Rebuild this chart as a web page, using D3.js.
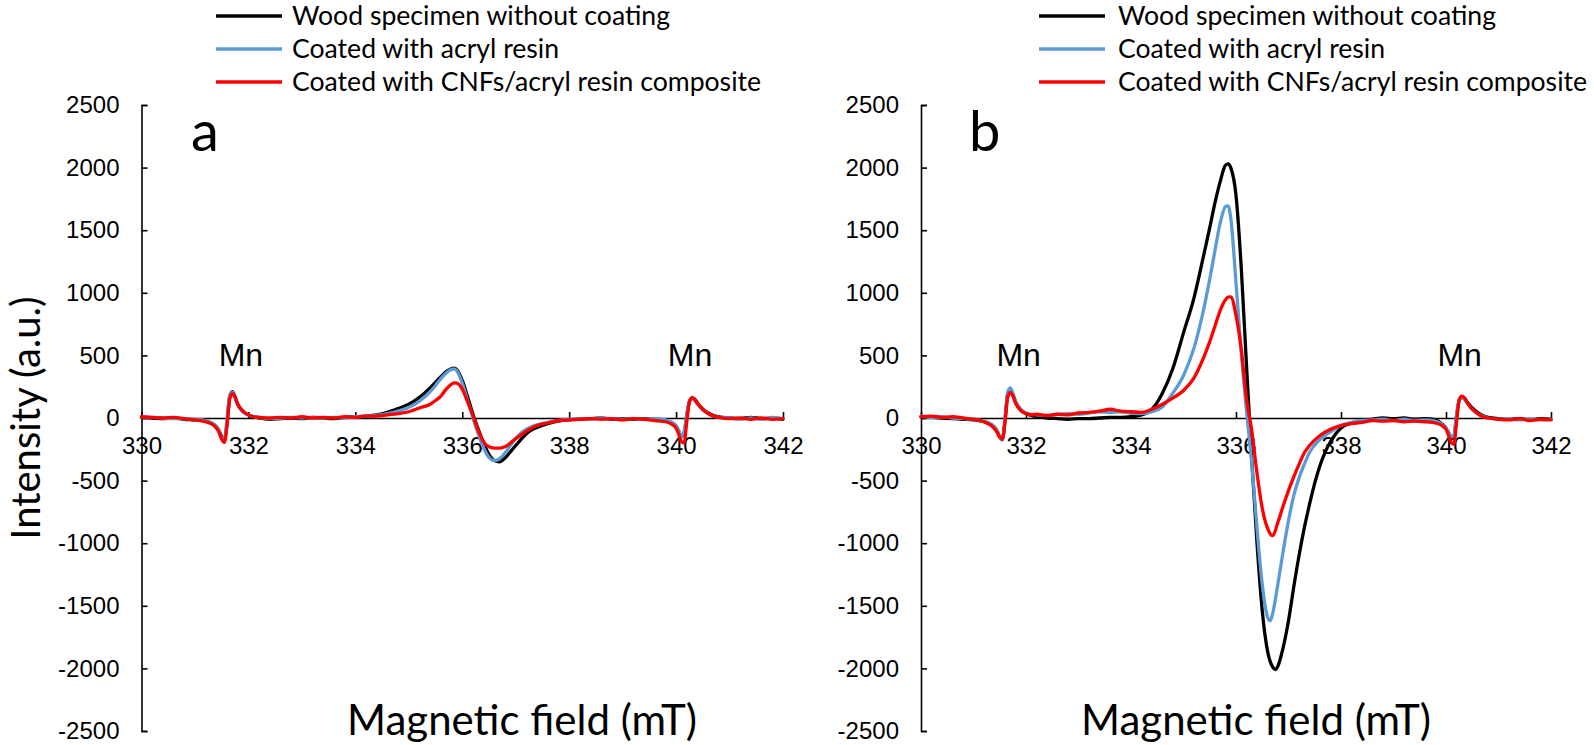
<!DOCTYPE html>
<html><head><meta charset="utf-8">
<script src="https://cdn.jsdelivr.net/npm/d3@7"></script>
<style>html,body{margin:0;padding:0;background:#fff;}svg{display:block;}</style>
</head><body>
<script>
// ---------- DATA ----------
const seriesNames = ["Wood specimen without coating", "Coated with acryl resin", "Coated with CNFs/acryl resin composite"];
const xTicks = [330, 332, 334, 336, 338, 340, 342];
const yTicks = [-2500, -2000, -1500, -1000, -500, 0, 500, 1000, 1500, 2000, 2500];
const panelLabels = ["a", "b"];
const mnFields = [331.86, 340.26];

// Panel a
const woodA = [[330.0,5],[330.2,0],[330.4,-5],[330.6,0],[330.8,-10],[331.0,-15],[331.2,-25],[331.3,-40],[331.4,-70],[331.45,-100],[331.5,-150],[331.55,-180],[331.6,-40],[331.65,170],[331.7,210],[331.75,170],[331.8,110],[331.9,50],[332.0,25],[332.1,10],[332.2,0],[332.4,-10],[332.6,-5],[332.8,0],[333.0,-5],[333.2,5],[333.4,0],[333.6,-5],[333.8,5],[334.0,10],[334.2,15],[334.4,25],[334.6,45],[334.8,75],[335.0,110],[335.2,165],[335.4,240],[335.5,285],[335.6,330],[335.7,370],[335.8,395],[335.85,398],[335.9,385],[336.0,300],[336.1,170],[336.2,30],[336.3,-90],[336.4,-200],[336.5,-290],[336.6,-340],[336.7,-350],[336.8,-320],[336.9,-270],[337.0,-220],[337.1,-170],[337.2,-125],[337.3,-95],[337.4,-75],[337.6,-45],[337.8,-25],[338.0,-15],[338.2,-10],[338.4,-5],[338.6,0],[338.8,-10],[339.0,-5],[339.2,-10],[339.4,-5],[339.6,-10],[339.8,-20],[339.9,-35],[340.0,-70],[340.05,-110],[340.1,-150],[340.15,-120],[340.2,20],[340.25,130],[340.3,160],[340.35,150],[340.4,120],[340.5,70],[340.6,40],[340.7,20],[340.8,10],[341.0,0],[341.2,-5],[341.4,5],[341.6,-5],[341.8,0],[342.0,-10]];
const acrylA = [[330.0,10],[330.2,5],[330.4,0],[330.6,-5],[330.8,-5],[331.0,-10],[331.2,-20],[331.3,-35],[331.4,-65],[331.45,-100],[331.5,-160],[331.55,-175],[331.6,0],[331.65,180],[331.7,205],[331.75,165],[331.8,105],[331.9,50],[332.0,25],[332.1,10],[332.2,5],[332.4,-5],[332.6,0],[332.8,5],[333.0,0],[333.2,5],[333.4,0],[333.6,5],[333.8,0],[334.0,10],[334.2,15],[334.4,20],[334.6,35],[334.8,55],[335.0,85],[335.2,135],[335.4,210],[335.5,260],[335.6,315],[335.7,360],[335.8,388],[335.85,392],[335.9,375],[336.0,280],[336.1,140],[336.2,0],[336.3,-130],[336.4,-240],[336.5,-315],[336.6,-340],[336.7,-325],[336.8,-280],[336.9,-220],[337.0,-165],[337.1,-120],[337.2,-90],[337.3,-70],[337.4,-55],[337.6,-35],[337.8,-20],[338.0,-10],[338.2,-5],[338.4,-10],[338.6,0],[338.8,-5],[339.0,-10],[339.2,-5],[339.4,-10],[339.6,-5],[339.8,-15],[339.9,-30],[340.0,-60],[340.05,-100],[340.1,-150],[340.15,-110],[340.2,30],[340.25,135],[340.3,155],[340.35,140],[340.4,110],[340.5,65],[340.6,35],[340.7,15],[340.8,5],[341.0,0],[341.2,-10],[341.4,0],[341.6,-10],[341.8,5],[342.0,-5]];
const cnfA = [[330.0,10],[330.2,5],[330.4,0],[330.6,5],[330.8,-5],[331.0,-15],[331.2,-30],[331.3,-45],[331.4,-80],[331.45,-115],[331.5,-170],[331.55,-195],[331.6,-60],[331.65,150],[331.7,195],[331.75,165],[331.8,110],[331.9,55],[332.0,25],[332.1,10],[332.2,5],[332.4,0],[332.6,5],[332.8,0],[333.0,10],[333.2,0],[333.4,5],[333.6,0],[333.8,10],[334.0,5],[334.2,15],[334.4,15],[334.6,25],[334.8,35],[335.0,50],[335.2,80],[335.4,110],[335.5,140],[335.6,175],[335.7,230],[335.8,270],[335.85,280],[335.9,278],[336.0,230],[336.1,130],[336.2,20],[336.3,-100],[336.4,-190],[336.5,-230],[336.6,-240],[336.7,-240],[336.8,-230],[336.9,-200],[337.0,-165],[337.1,-135],[337.2,-105],[337.3,-80],[337.4,-60],[337.6,-40],[337.8,-20],[338.0,-15],[338.2,-10],[338.4,-5],[338.6,-10],[338.8,-5],[339.0,-15],[339.2,-5],[339.4,-10],[339.6,-20],[339.8,-30],[339.9,-45],[340.0,-80],[340.05,-130],[340.1,-190],[340.15,-200],[340.2,-30],[340.25,130],[340.3,160],[340.35,145],[340.4,115],[340.5,70],[340.6,35],[340.7,15],[340.8,5],[341.0,-5],[341.2,0],[341.4,-10],[341.6,0],[341.8,-10],[342.0,-5]];

// Panel b
const woodB = [[330.0,10],[330.2,5],[330.4,0],[330.6,-5],[330.8,-10],[331.0,-15],[331.2,-30],[331.3,-45],[331.4,-75],[331.45,-105],[331.5,-150],[331.55,-175],[331.6,-20],[331.65,190],[331.7,235],[331.75,190],[331.8,130],[331.9,65],[332.0,35],[332.1,20],[332.2,10],[332.4,0],[332.6,-5],[332.8,-10],[333.0,-5],[333.2,-5],[333.4,0],[333.6,5],[333.8,5],[334.0,10],[334.2,25],[334.4,70],[334.6,200],[334.8,400],[335.0,680],[335.2,960],[335.4,1330],[335.5,1520],[335.6,1720],[335.7,1890],[335.8,2020],[335.85,2030],[335.9,2000],[336.0,1780],[336.1,1200],[336.2,420],[336.3,-330],[336.4,-1000],[336.5,-1540],[336.6,-1860],[336.7,-1990],[336.75,-2010],[336.8,-1980],[336.9,-1830],[337.0,-1620],[337.1,-1350],[337.2,-1100],[337.3,-880],[337.4,-690],[337.5,-520],[337.6,-380],[337.7,-270],[337.8,-190],[338.0,-80],[338.2,-40],[338.4,-20],[338.6,-10],[338.8,0],[339.0,-5],[339.2,0],[339.4,-10],[339.6,-5],[339.8,-15],[339.9,-40],[340.0,-80],[340.05,-120],[340.1,-165],[340.15,-150],[340.2,10],[340.25,140],[340.3,170],[340.35,160],[340.4,130],[340.5,80],[340.6,45],[340.7,20],[340.8,5],[341.0,-5],[341.2,-10],[341.4,-5],[341.6,-15],[341.8,-5],[342.0,-10]];
const acrylB = [[330.0,15],[330.2,5],[330.4,10],[330.6,0],[330.8,-5],[331.0,-10],[331.2,-25],[331.3,-40],[331.4,-70],[331.45,-100],[331.5,-150],[331.55,-170],[331.6,0],[331.65,200],[331.7,240],[331.75,195],[331.8,135],[331.9,70],[332.0,40],[332.1,30],[332.2,25],[332.4,20],[332.6,30],[332.8,35],[333.0,30],[333.2,40],[333.4,50],[333.6,45],[333.8,50],[334.0,40],[334.2,35],[334.4,50],[334.6,90],[334.8,200],[335.0,340],[335.2,560],[335.4,900],[335.5,1110],[335.6,1340],[335.7,1560],[335.8,1690],[335.85,1695],[335.9,1600],[336.0,1080],[336.1,520],[336.2,60],[336.3,-360],[336.4,-880],[336.5,-1330],[336.6,-1590],[336.65,-1620],[336.7,-1560],[336.8,-1320],[336.9,-1060],[337.0,-820],[337.1,-620],[337.2,-480],[337.3,-370],[337.4,-275],[337.6,-170],[337.8,-110],[338.0,-60],[338.2,-35],[338.4,-20],[338.6,-15],[338.8,-10],[339.0,-20],[339.2,-10],[339.4,-20],[339.6,-15],[339.8,-25],[339.9,-45],[340.0,-80],[340.05,-110],[340.1,-150],[340.15,-140],[340.2,20],[340.25,140],[340.3,160],[340.35,150],[340.4,120],[340.5,70],[340.6,35],[340.7,15],[340.8,0],[341.0,-10],[341.2,-5],[341.4,-15],[341.6,-5],[341.8,-15],[342.0,-10]];
const cnfB = [[330.0,10],[330.2,15],[330.4,5],[330.6,10],[330.8,0],[331.0,-10],[331.2,-30],[331.3,-50],[331.4,-85],[331.45,-115],[331.5,-155],[331.55,-165],[331.6,-30],[331.65,160],[331.7,205],[331.75,175],[331.8,120],[331.9,60],[332.0,35],[332.1,25],[332.2,30],[332.4,20],[332.6,30],[332.8,25],[333.0,40],[333.2,45],[333.4,55],[333.6,70],[333.8,55],[334.0,50],[334.2,45],[334.4,70],[334.6,110],[334.8,160],[335.0,220],[335.2,320],[335.4,500],[335.5,610],[335.6,735],[335.7,860],[335.8,945],[335.85,965],[335.9,968],[336.0,820],[336.1,550],[336.2,150],[336.3,-100],[336.4,-440],[336.5,-720],[336.6,-880],[336.7,-940],[336.8,-830],[336.9,-700],[337.0,-580],[337.1,-470],[337.2,-370],[337.3,-280],[337.4,-220],[337.6,-140],[337.8,-90],[338.0,-60],[338.2,-45],[338.4,-35],[338.6,-20],[338.8,-25],[339.0,-20],[339.2,-30],[339.4,-25],[339.6,-30],[339.8,-40],[339.9,-55],[340.0,-90],[340.05,-140],[340.1,-195],[340.15,-210],[340.2,-40],[340.25,140],[340.3,175],[340.35,160],[340.4,125],[340.5,70],[340.6,35],[340.7,10],[340.8,0],[341.0,-10],[341.2,-15],[341.4,-5],[341.6,-20],[341.8,-10],[342.0,-15]];

// ---------- STYLE / LAYOUT ----------
const colors = ["#000000", "#5B9BD5", "#FF0000"];
const W = 1594, H = 745;
const yTop = 105, yBot = 731;
const panels = [
  { label: panelLabels[0], series: [woodA, acrylA, cnfA], x0: 141.5, x1: 783, legLine: 216, legText: 292, labelX: 191, titleX: 522 },
  { label: panelLabels[1], series: [woodB, acrylB, cnfB], x0: 921, x1: 1551, legLine: 1039, legText: 1118, labelX: 969, titleX: 1256 }
];
const sansA = "'Liberation Sans', Arial, sans-serif";
const sansC = "Lato, 'Open Sans', sans-serif";

const svg = d3.select("body").append("svg").attr("width", W).attr("height", H);

// Y axis title
svg.append("text")
  .attr("transform", `translate(40,418) rotate(-90)`)
  .attr("text-anchor", "middle")
  .style("font-family", sansC).style("font-size", "40px")
  .text("Intensity (a.u.)");

panels.forEach(p => {
  const x = d3.scaleLinear().domain([330, 342]).range([p.x0, p.x1]);
  const y = d3.scaleLinear().domain([-2500, 2500]).range([yBot, yTop]);
  const g = svg.append("g");

  // y axis
  const ya = g.append("g").attr("transform", `translate(${p.x0},0)`)
    .call(d3.axisLeft(y).tickValues(yTicks).tickSize(-6).tickPadding(22).tickFormat(d => String(d)));
  ya.select(".domain").attr("stroke", "#000").attr("stroke-width", 1.6);
  ya.selectAll(".tick line").attr("stroke", "#000").attr("stroke-width", 1.6);
  ya.selectAll("text").style("font-family", sansA).style("font-size", "24px").attr("fill", "#000");

  // x axis along zero
  const xa = g.append("g").attr("transform", `translate(0,${y(0)})`)
    .call(d3.axisBottom(x).tickValues(xTicks).tickSize(-6).tickSizeOuter(0).tickPadding(19).tickFormat(d => String(d)));
  xa.select(".domain").attr("stroke", "#000").attr("stroke-width", 1.6);
  xa.selectAll(".tick line").attr("stroke", "#000").attr("stroke-width", 1.6);
  xa.selectAll("text").style("font-family", sansA).style("font-size", "24px").attr("fill", "#000");

  // lines
  const line = d3.line().x(d => x(d[0])).y(d => y(d[1])).curve(d3.curveMonotoneX);
  p.series.forEach((s, i) => {
    g.append("path").datum(s).attr("d", line)
      .attr("fill", "none").attr("stroke", colors[i]).attr("stroke-width", 3.3)
      .attr("stroke-linejoin", "round").attr("stroke-linecap", "round");
  });

  // Mn labels
  mnFields.forEach(f => {
    g.append("text").attr("x", x(f)).attr("y", 366).attr("text-anchor", "middle")
      .style("font-family", sansA).style("font-size", "32px").text("Mn");
  });

  // panel letter
  g.append("text").attr("x", p.labelX).attr("y", 151)
    .style("font-family", sansC).style("font-size", "56px").text(p.label);

  // x title
  g.append("text").attr("x", p.titleX).attr("y", 735).attr("text-anchor", "middle")
    .style("font-family", sansC).style("font-size", "42px").text("Magnetic field (mT)");

  // legend
  seriesNames.forEach((n, i) => {
    const cy = 16 + i * 33;
    g.append("line").attr("x1", p.legLine).attr("x2", p.legLine + 66).attr("y1", cy).attr("y2", cy)
      .attr("stroke", colors[i]).attr("stroke-width", 3.5);
    g.append("text").attr("x", p.legText).attr("y", cy + 9)
      .style("font-family", sansC).style("font-size", "26.6px").text(n);
  });
});
</script>
</body></html>
